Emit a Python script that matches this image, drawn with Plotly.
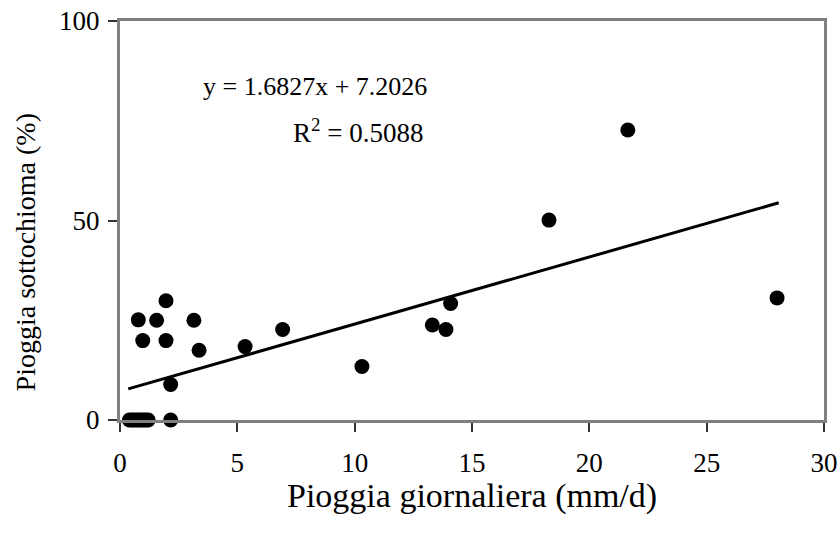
import plotly.graph_objects as go

# Data
rain_daily = [0.4, 0.5, 0.6, 0.7, 0.8, 0.9, 1.0, 1.1, 1.2, 2.16,
              0.78, 1.56, 1.96, 3.15, 0.97, 1.96, 3.37, 2.16,
              5.33, 6.93, 10.31, 13.31, 13.89, 14.09, 18.28, 21.64, 28.0]
throughfall = [0, 0, 0, 0, 0, 0, 0, 0, 0, 0,
               25.1, 25.0, 29.9, 25.0, 19.9, 19.9, 17.5, 8.9,
               18.4, 22.7, 13.4, 23.8, 22.7, 29.2, 50.1, 72.7, 30.6]

slope = 1.6827
intercept = 7.2026
r2 = 0.5088

x_ticks = [0, 5, 10, 15, 20, 25, 30]
y_ticks = [0, 50, 100]

x_title = "Pioggia giornaliera (mm/d)"
y_title = "Pioggia sottochioma (%)"

trend_x = [min(rain_daily) - 0.05, max(rain_daily) + 0.07]
trend_y = [slope * v + intercept for v in trend_x]

FONT = "Liberation Serif, Times New Roman, serif"

fig = go.Figure()
fig.add_trace(go.Scatter(x=trend_x, y=trend_y, mode="lines",
                         line=dict(color="black", width=3), hoverinfo="skip"))
fig.add_trace(go.Scatter(x=rain_daily, y=throughfall, mode="markers",
                         marker=dict(color="black", size=15), cliponaxis=False))

fig.add_annotation(x=13.15, y=83.5, xref="x", yref="y", xanchor="right", yanchor="middle",
                   text=f"y = {slope:.4f}x + {intercept:.4f}", showarrow=False,
                   font=dict(family=FONT, size=26, color="black"))
fig.add_annotation(x=13.0, y=72.4, xref="x", yref="y", xanchor="right", yanchor="middle",
                   text=f"R<sup>2</sup> = {r2:.4f}", showarrow=False,
                   font=dict(family=FONT, size=27, color="black"))

# axis titles as annotations for precise placement
fig.add_annotation(x=-0.135, y=0.42, xref="paper", yref="paper", xanchor="center", yanchor="middle",
                   text=y_title, textangle=-90, showarrow=False,
                   font=dict(family=FONT, size=28, color="black"))
fig.add_annotation(x=0.5, y=-0.19, xref="paper", yref="paper", xanchor="center", yanchor="middle",
                   text=x_title, showarrow=False,
                   font=dict(family=FONT, size=34, color="black"))

fig.update_layout(
    width=840, height=542,
    margin=dict(l=120, r=16, t=21, b=122),
    paper_bgcolor="white", plot_bgcolor="white",
    showlegend=False,
    font=dict(family=FONT, size=27, color="black"),
    xaxis=dict(range=[0, 30], tickvals=x_ticks, showgrid=False, zeroline=False,
               showline=True, linecolor="#808080", linewidth=3, mirror=True,
               ticks="outside", ticklen=9, tickwidth=1.5, tickcolor="#333333",
               ticklabelstandoff=8, automargin=False),
    yaxis=dict(range=[0, 100], tickvals=y_ticks, showgrid=False, zeroline=False,
               showline=True, linecolor="#808080", linewidth=3, mirror=True,
               ticks="outside", ticklen=9, tickwidth=1.5, tickcolor="#333333",
               ticklabelstandoff=3, automargin=False),
)

fig.write_html("out.html")
